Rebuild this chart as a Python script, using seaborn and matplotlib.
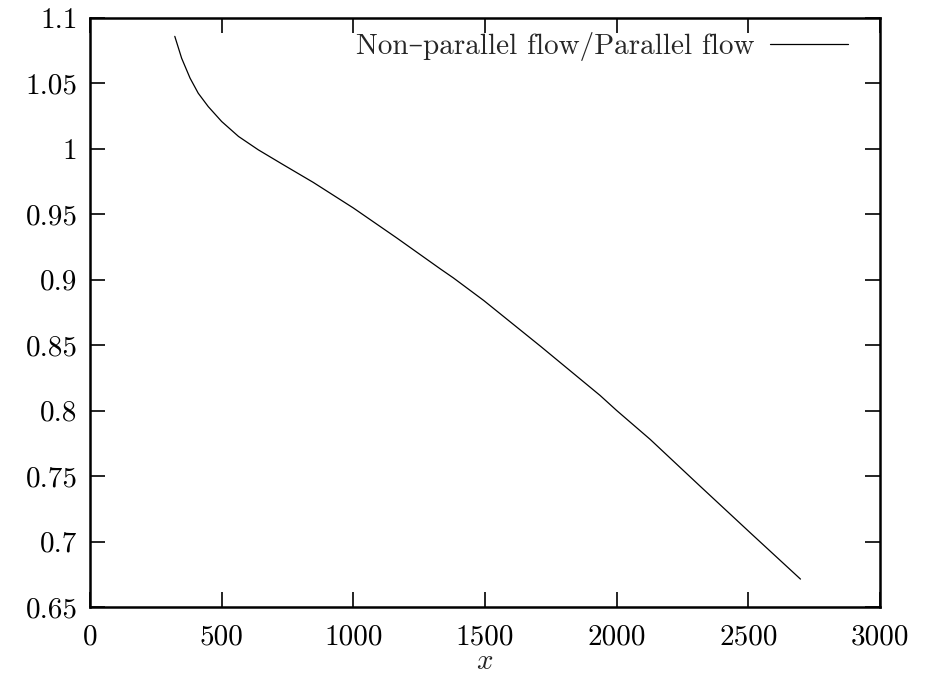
import matplotlib
matplotlib.use("Agg")
import matplotlib.pyplot as plt
import seaborn as sns
import pandas as pd

# Data
x_vals = [322, 348, 380, 411, 449, 500, 564, 639, 734, 848, 1000, 1165, 1331, 1380,
          1495, 1711, 1937, 2000, 2127, 2316, 2506, 2698]
ratio_vals = [1.0856, 1.0689, 1.0537, 1.0422, 1.0320, 1.0206, 1.0092, 0.9990, 0.9876,
              0.9741, 0.9546, 0.9317, 0.9080, 0.9012, 0.8840, 0.8490, 0.8115, 0.8000,
              0.7780, 0.7424, 0.7069, 0.6713]
series_label = "Non\u2013parallel flow/Parallel flow"
x_ticks = [0, 500, 1000, 1500, 2000, 2500, 3000]
x_tick_labels = ["0", "500", "1000", "1500", "2000", "2500", "3000"]
y_ticks = [0.65, 0.7, 0.75, 0.8, 0.85, 0.9, 0.95, 1.0, 1.05, 1.1]
y_tick_labels = ["0.65", "0.7", "0.75", "0.8", "0.85", "0.9", "0.95", "1", "1.05", "1.1"]

df = pd.DataFrame({"x": x_vals, "ratio": ratio_vals, "series": series_label})

sns.set_theme(style="ticks")
plt.rcParams["font.family"] = ["cmr10", "DejaVu Serif"]
plt.rcParams["mathtext.fontset"] = "cm"
plt.rcParams["axes.formatter.use_mathtext"] = True

fig = plt.figure(figsize=(9.28, 6.78), dpi=100)
ax = fig.add_axes([90 / 928, 1 - 607 / 678, (880 - 90) / 928, (607 - 17.5) / 678])

sns.lineplot(data=df, x="x", y="ratio", hue="series", palette=["black"],
             linewidth=0.9, ax=ax, legend=True)

ax.set_xlim(0, 3000)
ax.set_ylim(0.65, 1.1)
ax.set_xticks(x_ticks)
ax.set_xticklabels(x_tick_labels)
ax.set_yticks(y_ticks)
ax.set_yticklabels(y_tick_labels)
ax.tick_params(direction="in", length=10.5, width=1.2, top=True, right=True,
               labelsize=21, colors="black")
ax.tick_params(axis="x", pad=12)
ax.tick_params(axis="y", pad=9)
for s in ax.spines.values():
    s.set_linewidth(1.8)
    s.set_color("black")
    s.set_visible(True)

ax.set_xlabel("$x$", fontsize=21, labelpad=-1)
ax.set_ylabel("")

handles, labels = ax.get_legend_handles_labels()
ax.legend(handles, labels, loc="upper right", frameon=False, markerfirst=False,
          fontsize=21, handlelength=2.65, handletextpad=0.55,
          bbox_to_anchor=(0.985, 1.01), borderaxespad=0.3)

fig.savefig("out.png", dpi=100)
